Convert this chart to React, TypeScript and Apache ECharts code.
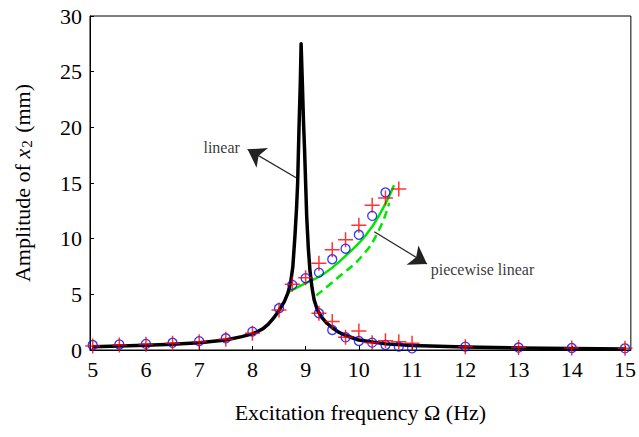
import React, { useEffect, useRef } from "react";
import * as echarts from "echarts";

const FONT = "'Liberation Serif', 'Times New Roman', serif";

const xTickValues = [5, 6, 7, 8, 9, 10, 11, 12, 13, 14, 15];

// linear response (black solid)
const linearCurve: [number, number][] = [
  [5, 0.3], [5.5, 0.35], [6, 0.42], [6.5, 0.52], [7, 0.66], [7.5, 0.9], [7.8, 1.2],
  [8, 1.45], [8.1, 1.66], [8.2, 1.92], [8.3, 2.33], [8.4, 2.88], [8.5, 3.55],
  [8.6, 4.35], [8.67, 5.15], [8.72, 6.1], [8.76, 7.5], [8.8, 10.3], [8.83, 12.8],
  [8.85, 15], [8.875, 19.8], [8.9, 24], [8.915, 27.5], [8.935, 24.5], [8.96, 20.5],
  [8.98, 18], [9.0, 15], [9.02, 12], [9.05, 9.2], [9.08, 7.2], [9.12, 5.6],
  [9.16, 4.5], [9.22, 3.6], [9.3, 2.95], [9.4, 2.4], [9.5, 2.0], [9.62, 1.6],
  [9.75, 1.3], [10, 0.9], [10.5, 0.55], [11, 0.4], [12, 0.26], [13, 0.18],
  [14, 0.13], [15, 0.1],
];

// piecewise linear, upper branch (green solid)
const piecewiseSolid: [number, number][] = [
  [8.65, 5.15], [9.04, 6.1], [9.26, 6.6], [9.5, 7.4], [9.76, 8.5], [10.13, 10.3],
  [10.44, 12.6], [10.66, 14.8],
];

// piecewise linear, unstable branch (green dashed)
const piecewiseDashed: [number, number][] = [
  [9.2, 4.9], [9.63, 6.6], [10.07, 8.5], [10.38, 10.8], [10.57, 13.2],
];

// measured points (blue circles)
const circlePoints: [number, number][] = [
  [5, 0.45], [5.5, 0.5], [6, 0.55], [6.5, 0.65], [7, 0.8], [7.5, 1.05], [8, 1.65],
  [8.5, 3.75], [8.75, 5.85], [9, 6.45], [9.25, 6.95], [9.5, 8.15], [9.75, 9.1],
  [10, 10.35], [10.25, 12.05], [10.5, 14.15],
  [9.25, 3.3], [9.5, 1.8], [9.75, 1.14], [10, 0.81], [10.25, 0.66], [10.5, 0.45],
  [10.75, 0.3], [11, 0.15], [12, 0.3], [13, 0.22], [14, 0.18], [15, 0.15],
];

// simulated points (red plus)
const plusPoints: [number, number][] = [
  [5, 0.36], [5.5, 0.45], [6, 0.51], [6.5, 0.6], [7, 0.75], [7.5, 0.96], [8, 1.5],
  [8.5, 3.6], [8.75, 5.9], [9, 6.5], [9.25, 7.8], [9.5, 9.0], [9.75, 9.9],
  [10, 11.2], [10.25, 13.0], [10.5, 13.65], [10.75, 14.45],
  [9.25, 3.3], [9.5, 2.55], [9.75, 1.14], [10, 1.7], [10.25, 0.66], [10.5, 0.84],
  [10.75, 0.75], [11, 0.6], [12, 0.3], [13, 0.22], [14, 0.18], [15, 0.15],
];

// annotation arrows: [from, to]
const arrowLinear: [number, number][] = [[8.83, 15.45], [7.91, 18.03]];
const arrowPiecewise: [number, number][] = [[10.29, 10.63], [11.28, 7.73]];

// annotation labels: [x, y, text]
const annotationLabels: [number, number, string][] = [
  [7.08, 18.15, "linear"],
  [11.35, 7.25, "piecewise linear"],
];

const PLUS = "path://M7,0L7,14M0,7L14,7";

export default function App() {
  const ref = useRef<HTMLDivElement>(null);

  useEffect(() => {
    if (!ref.current) return;
    const chart = echarts.init(ref.current, null, { renderer: "svg" });
    chart.setOption({
      animation: false,
      backgroundColor: "#ffffff",
      grid: {
        left: 90,
        top: 16,
        right: 6.3,
        bottom: 87,
        show: true,
        borderColor: "#000",
        borderWidth: 1,
        containLabel: false,
      },
      xAxis: {
        type: "value",
        min: 4.949,
        max: 15.11,
        name: "Excitation frequency Ω (Hz)",
        nameLocation: "middle",
        nameGap: 51,
        nameTextStyle: { fontFamily: FONT, fontSize: 22, color: "#000" },
        axisLine: { show: true, onZero: false, lineStyle: { color: "#000", width: 1 } },
        axisTick: {
          show: true,
          inside: true,
          length: 4,
          customValues: xTickValues,
          lineStyle: { color: "#000", width: 1 },
        },
        axisLabel: {
          customValues: xTickValues,
          fontFamily: FONT,
          fontSize: 22,
          color: "#000",
          margin: 8,
        },
        splitLine: { show: false },
      },
      yAxis: {
        type: "value",
        min: 0,
        max: 30,
        interval: 5,
        name: "{a|Amplitude of }{i|x}{s|2}{a| (mm)}",
        nameLocation: "middle",
        nameGap: 56,
        nameTextStyle: {
          fontFamily: FONT,
          fontSize: 22,
          color: "#000",
          rich: {
            a: { fontFamily: FONT, fontSize: 22, color: "#000", lineHeight: 24 },
            i: { fontFamily: FONT, fontSize: 22, fontStyle: "italic", color: "#000", lineHeight: 24 },
            s: { fontFamily: FONT, fontSize: 15, color: "#000", lineHeight: 15, padding: [9, 2, 0, 1] },
          },
        },
        axisLine: { show: true, lineStyle: { color: "#000", width: 1 } },
        axisTick: { show: true, inside: true, length: 4, lineStyle: { color: "#000", width: 1 } },
        axisLabel: { fontFamily: FONT, fontSize: 22, color: "#000", margin: 8 },
        splitLine: { show: false },
      },
      series: [
        {
          name: "linear",
          type: "line",
          data: linearCurve,
          showSymbol: false,
          symbol: "none",
          lineStyle: { color: "#000", width: 3.5, join: "round" },
          z: 3,
        },
        {
          name: "piecewise stable",
          type: "line",
          data: piecewiseSolid,
          smooth: true,
          symbol: "none",
          lineStyle: { color: "#00e600", width: 2.5 },
          z: 2,
        },
        {
          name: "piecewise unstable",
          type: "line",
          data: piecewiseDashed,
          smooth: true,
          symbol: "none",
          lineStyle: { color: "#00e600", width: 2.5, type: [8, 5] },
          z: 2,
        },
        {
          name: "circles",
          type: "scatter",
          data: circlePoints,
          symbol: "circle",
          symbolSize: 9,
          itemStyle: { color: "rgba(0,0,0,0)", borderColor: "#0000ff", borderWidth: 1.3 },
          z: 5,
        },
        {
          name: "plus",
          type: "scatter",
          data: plusPoints,
          symbol: PLUS,
          symbolSize: 15,
          itemStyle: { color: "rgba(0,0,0,0)", borderColor: "#ff0000", borderWidth: 1.5 },
          z: 6,
        },
        {
          name: "arrows",
          type: "lines",
          coordinateSystem: "cartesian2d",
          data: [{ coords: arrowLinear }, { coords: arrowPiecewise }],
          symbol: ["none", "arrow"],
          symbolSize: 17,
          lineStyle: { color: "#222", width: 1.2, opacity: 1 },
          itemStyle: { color: "#000" },
          z: 7,
        },
        {
          name: "labels",
          type: "scatter",
          data: annotationLabels,
          symbolSize: 0,
          label: {
            show: true,
            position: "right",
            distance: 0,
            formatter: (p: any) => p.value[2],
            fontFamily: FONT,
            fontSize: 16,
            color: "#000",
          },
          z: 8,
        },
      ],
    });
    return () => chart.dispose();
  }, []);

  return (
    <div
      ref={ref}
      style={{ position: "fixed", left: 0, top: 0, width: 639, height: 437, background: "#fff" }}
    />
  );
}
